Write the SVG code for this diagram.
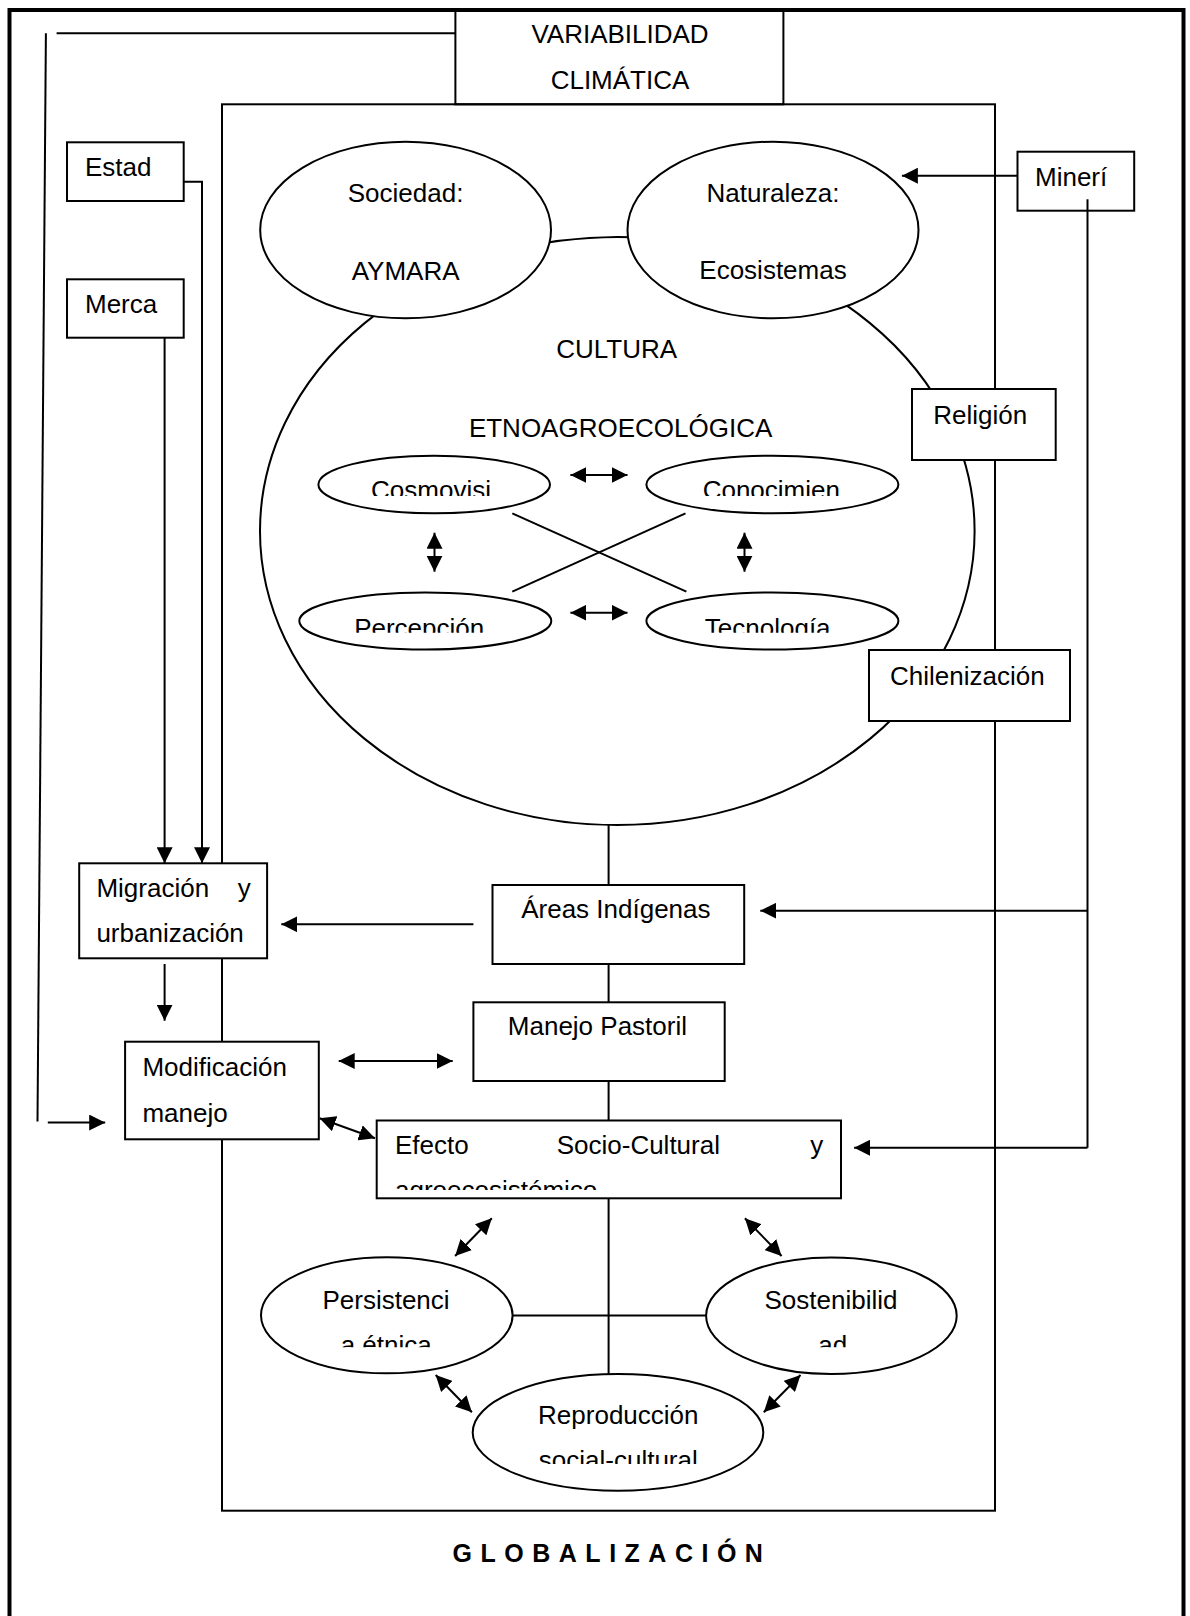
<svg xmlns="http://www.w3.org/2000/svg" width="1190" height="1616" viewBox="0 0 1190 1616">
<style>
.t{font-family:"Liberation Sans",Arial,sans-serif;font-size:26px;fill:#000}
.m{text-anchor:middle}
.e{text-anchor:end}
.b{font-weight:bold;letter-spacing:8.5px;font-size:25px}
.s{fill:none;stroke:#000;stroke-width:2}
.w{fill:#fff;stroke:#000;stroke-width:2}
.a{fill:none;stroke:#000;stroke-width:2;marker-end:url(#ah)}
.d{fill:none;stroke:#000;stroke-width:2;marker-start:url(#ah);marker-end:url(#ah)}
</style>
<defs>
<marker id="ah" markerUnits="userSpaceOnUse" viewBox="0 0 16 16" markerWidth="16" markerHeight="16" refX="16" refY="8" orient="auto-start-reverse"><path d="M0,0 L16,8 L0,16 Z" fill="#000"/></marker>
<clipPath id="cTop"><rect x="300" y="440" width="620" height="56"/></clipPath>
<clipPath id="cBot"><rect x="280" y="580" width="640" height="52.7"/></clipPath>
<clipPath id="cEf"><rect x="378" y="1121" width="462" height="69"/></clipPath>
<clipPath id="cPS"><rect x="260" y="1320" width="700" height="27.3"/></clipPath>
<clipPath id="cRep"><rect x="470" y="1440" width="300" height="24"/></clipPath>
</defs>

<g id="frame">
<rect x="9.5" y="10" width="1174" height="1630" fill="none" stroke="#000" stroke-width="4"/>
</g>
<g id="inner-area">
<rect class="s" x="222" y="104.3" width="773" height="1406.4"/>
</g>
<g id="variabilidad">
<rect class="s" x="455.4" y="10" width="328" height="94.3"/>
<text class="t m" x="620" y="42.7">VARIABILIDAD</text>
<text class="t m" x="620" y="89.3">CLIMÁTICA</text>
</g>
<g id="cultura">
<ellipse class="s" cx="617.3" cy="531" rx="357.3" ry="294"/>
<text class="t m" x="616.7" y="358.3">CULTURA</text>
<text class="t m" x="620.6" y="436.7">ETNOAGROECOLÓGICA</text>
</g>

<g id="connectors">
<path class="s" d="M455.4,33.3 H56.6"/>
<path class="s" d="M45.9,33.3 L37.5,1121.4"/>
<path class="a" d="M47.8,1122.6 H105.2"/>
<path class="a" d="M183.7,181.7 H202 V863.3"/>
<path class="a" d="M164.6,337.7 V863.3"/>
<path class="a" d="M1017.5,175.7 H901.9"/>
<path class="s" d="M1087.5,199.3 V1147.7"/>
<path class="a" d="M1087.5,910.7 H760.3"/>
<path class="a" d="M1087.5,1147.7 H854.1"/>
<path class="a" d="M473.4,924.3 H281.3"/>
<path class="a" d="M164.6,964 V1020.7"/>
<path class="d" d="M338.7,1061 H452.7"/>
<path class="d" d="M319.6,1118.3 L375,1138.3"/>
<path class="s" d="M608.6,825 V1374"/>
<path class="s" d="M512.2,1315.5 H706"/>
<path class="d" d="M491.8,1218.3 L455.1,1256"/>
<path class="d" d="M744.9,1218.3 L781.6,1256"/>
<path class="d" d="M435.7,1375 L471.9,1412.3"/>
<path class="d" d="M800.5,1375 L763.8,1412.3"/>
<path class="d" d="M570.4,475 H627.5"/>
<path class="d" d="M570.4,612.7 H627.5"/>
<path class="d" d="M434.5,532.7 V571.7"/>
<path class="d" d="M744.5,532.7 V571.7"/>
<path class="s" d="M512.3,513.3 L686.4,591.7"/>
<path class="s" d="M685.5,513.3 L512.3,591.7"/>
</g>

<g id="estado">
<rect class="w" x="67" y="142.3" width="116.7" height="58.7"/>
<text class="t" x="85" y="176">Estad</text>
</g>
<g id="mercado">
<rect class="w" x="67" y="279.3" width="116.7" height="58.4"/>
<text class="t" x="85" y="313.3">Merca</text>
</g>
<g id="mineria">
<rect class="s" x="1017.5" y="151.7" width="116.7" height="59"/>
<text class="t" x="1035" y="185.7">Minerí</text>
</g>
<g id="sociedad">
<ellipse class="w" cx="405.6" cy="230" rx="145.4" ry="88.3"/>
<text class="t m" x="405.6" y="201.7">Sociedad:</text>
<text class="t m" x="405.6" y="279.5">AYMARA</text>
</g>
<g id="naturaleza">
<ellipse class="w" cx="773" cy="230" rx="145.5" ry="88.3"/>
<text class="t m" x="773" y="201.7">Naturaleza:</text>
<text class="t m" x="773" y="279">Ecosistemas</text>
</g>
<g id="religion">
<rect class="w" x="912" y="389" width="143.7" height="71"/>
<text class="t" x="933.3" y="424">Religión</text>
</g>
<g id="chilenizacion">
<rect class="w" x="869" y="650" width="201" height="71"/>
<text class="t" x="890" y="685">Chilenización</text>
</g>
<g id="cosmovision">
<ellipse class="w" cx="434.2" cy="484.5" rx="115.8" ry="28.8"/>
<text class="t m" x="431" y="499.3" clip-path="url(#cTop)">Cosmovisi</text>
</g>
<g id="conocimiento">
<ellipse class="w" cx="772.4" cy="484.5" rx="126" ry="28.8"/>
<text class="t m" x="771.3" y="499.3" clip-path="url(#cTop)">Conocimien</text>
</g>
<g id="percepcion">
<ellipse class="w" cx="425.3" cy="621" rx="126" ry="28.5"/>
<text class="t m" x="419.2" y="637" clip-path="url(#cBot)">Percepción</text>
</g>
<g id="tecnologia">
<ellipse class="w" cx="772.4" cy="621" rx="126" ry="28.5"/>
<text class="t m" x="767.7" y="637" clip-path="url(#cBot)">Tecnología</text>
</g>
<g id="areas">
<rect class="w" x="492.5" y="885" width="251.7" height="79"/>
<text class="t" x="521.2" y="918.3">Áreas Indígenas</text>
</g>
<g id="manejo">
<rect class="w" x="473.4" y="1002.3" width="251.3" height="78.7"/>
<text class="t" x="507.8" y="1035">Manejo Pastoril</text>
</g>
<g id="migracion">
<rect class="w" x="79.2" y="863.3" width="187.9" height="95"/>
<text class="t" x="96.4" y="896.7">Migración</text>
<text class="t e" x="250.7" y="896.7">y</text>
<text class="t" x="96.4" y="941.7">urbanización</text>
</g>
<g id="modificacion">
<rect class="w" x="125.1" y="1041.7" width="193.7" height="97.6"/>
<text class="t" x="142.4" y="1076">Modificación</text>
<text class="t" x="142.4" y="1121.7">manejo</text>
</g>
<g id="efecto">
<rect class="w" x="376.7" y="1120.5" width="464.3" height="77.8"/>
<text class="t" x="395" y="1154.3">Efecto</text>
<text class="t" x="556.7" y="1154.3">Socio-Cultural</text>
<text class="t e" x="823.3" y="1154.3">y</text>
<text class="t" x="395" y="1199.3" clip-path="url(#cEf)">agroecosistémico</text>
</g>
<g id="persistencia">
<ellipse class="w" cx="386.8" cy="1315.3" rx="125.8" ry="58"/>
<text class="t m" x="386" y="1309.3">Persistenci</text>
<text class="t m" x="386.2" y="1354.2" clip-path="url(#cPS)">a étnica</text>
</g>
<g id="sostenibilidad">
<ellipse class="w" cx="831.4" cy="1315.7" rx="125.3" ry="58.3"/>
<text class="t m" x="831" y="1309.3">Sostenibilid</text>
<text class="t m" x="832.7" y="1354.2" clip-path="url(#cPS)">ad</text>
</g>
<g id="reproduccion">
<ellipse class="w" cx="618" cy="1432.4" rx="145.3" ry="58.3"/>
<text class="t m" x="618.3" y="1424.3">Reproducción</text>
<text class="t m" x="618.3" y="1469.3" clip-path="url(#cRep)">social-cultural</text>
</g>
<g id="globalizacion">
<text class="t b" x="452.6" y="1561.7">GLOBALIZACIÓN</text>
</g>
</svg>
